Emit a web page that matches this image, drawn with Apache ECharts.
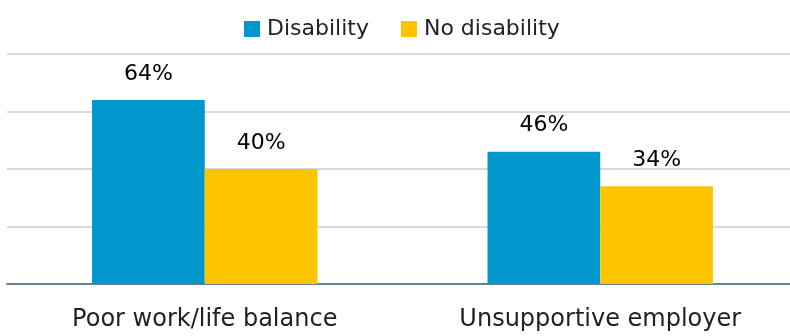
<!DOCTYPE html>
<html>
<head>
<meta charset="utf-8">
<script src="https://cdn.jsdelivr.net/npm/echarts@6/dist/echarts.min.js"></script>
<style>
  html, body { margin: 0; padding: 0; background: #ffffff; }
  #chart { width: 790px; height: 336px; }
</style>
</head>
<body>
<div id="chart"></div>
<script>
// Share of respondents citing each reason, by disability status
const categories = ['Poor work/life balance', 'Unsupportive employer'];
const disability = [64, 46];
const noDisability = [40, 34];
const seriesNames = ['Disability', 'No disability'];

const FONT = 'DejaVu Sans';

const chart = echarts.init(document.getElementById('chart'), null, { renderer: 'canvas' });

const labelStyle = {
  show: true,
  position: 'top',
  distance: 15,
  formatter: p => p.value + '%',
  color: '#000000',
  fontSize: 22,
  fontFamily: FONT
};

chart.setOption({
  animation: false,
  legend: {
    top: 18,
    left: 244,
    padding: 0,
    itemWidth: 16,
    itemHeight: 16,
    itemGap: 32,
    icon: 'rect',
    textStyle: { fontSize: 22, fontFamily: FONT, color: '#222222', padding: [0, 0, 0, 2] },
    data: seriesNames
  },
  grid: { left: 7, width: 791, top: 54, bottom: 52, containLabel: false, outerBoundsMode: 'none' },
  xAxis: {
    type: 'category',
    data: categories,
    axisTick: { show: false },
    axisLine: { lineStyle: { color: '#6b8090', width: 2 } },
    axisLabel: { fontSize: 24, fontFamily: FONT, color: '#222222', margin: 24 }
  },
  yAxis: {
    type: 'value',
    min: 0,
    max: 80,
    interval: 20,
    axisLabel: { show: false },
    axisLine: { show: false },
    axisTick: { show: false },
    splitLine: { lineStyle: { color: '#d9d9d9', width: 2 } }
  },
  series: [
    {
      name: seriesNames[0],
      type: 'bar',
      data: disability,
      barGap: '0%',
      barCategoryGap: '43%',
      itemStyle: { color: '#0098cc' },
      label: labelStyle
    },
    {
      name: seriesNames[1],
      type: 'bar',
      data: noDisability,
      itemStyle: { color: '#fcc500' },
      label: labelStyle
    }
  ]
});
</script>
</body>
</html>
